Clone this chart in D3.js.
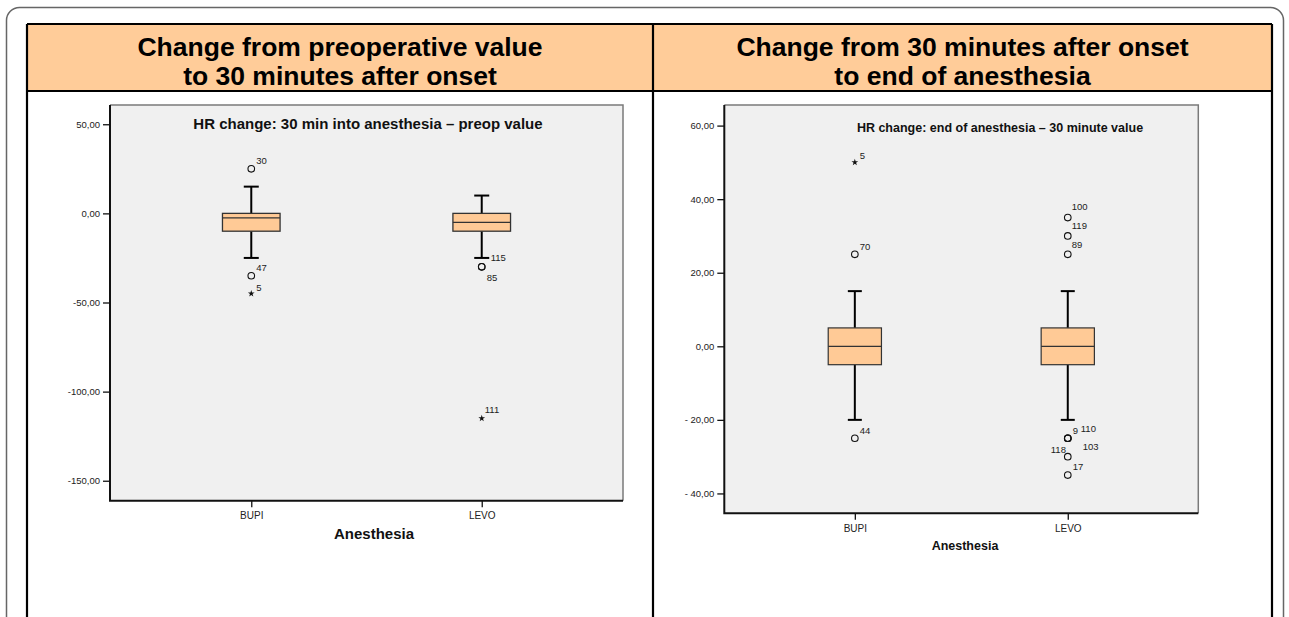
<!DOCTYPE html>
<html><head><meta charset="utf-8">
<script src="https://cdn.jsdelivr.net/npm/d3@7"></script>
<style>
body{margin:0;background:#fff}
svg{display:block}
text{font-family:"Liberation Sans",Arial,Helvetica,sans-serif}
</style>
</head><body>
<svg id="chart" width="1289" height="617"></svg>
<script>
// ---------------- DATA ----------------
const categories = ["BUPI", "LEVO"];
const headerTitles = [
  ["Change from preoperative value", "to 30 minutes after onset"],
  ["Change from 30 minutes after onset", "to end of anesthesia"]
];
const plotTitles = [
  "HR change: 30 min into anesthesia \u2013 preop value",
  "HR change: end of anesthesia \u2013 30 minute value"
];
const xAxisTitle = "Anesthesia";

// Left panel: change from preoperative value to 30 min after onset
const leftQ1 = [-10, -10];
const leftMedian = [-2.5, -5];
const leftQ3 = [0, 0];
const leftWhiskerLow = [-25, -25];
const leftWhiskerHigh = [15, 10];
const leftOutliers = [
  {group: "BUPI", id: "30", value: 25, type: "circle"},
  {group: "BUPI", id: "47", value: -35, type: "circle"},
  {group: "BUPI", id: "5", value: -45, type: "star"},
  {group: "LEVO", id: "115", value: -30, type: "circle"},
  {group: "LEVO", id: "85", value: -30, type: "circle"},
  {group: "LEVO", id: "111", value: -115, type: "star"}
];
const leftTicks = [50, 0, -50, -100, -150];
const leftTickLabels = ["50,00", "0,00", "-50,00", "-100,00", "-150,00"];

// Right panel: change from 30 min after onset to end of anesthesia
const rightQ1 = [-5, -5];
const rightMedian = [0, 0];
const rightQ3 = [5, 5];
const rightWhiskerLow = [-20, -20];
const rightWhiskerHigh = [15, 15];
const rightOutliers = [
  {group: "BUPI", id: "5", value: 50, type: "star"},
  {group: "BUPI", id: "70", value: 25, type: "circle"},
  {group: "BUPI", id: "44", value: -25, type: "circle"},
  {group: "LEVO", id: "100", value: 35, type: "circle"},
  {group: "LEVO", id: "119", value: 30, type: "circle"},
  {group: "LEVO", id: "89", value: 25, type: "circle"},
  {group: "LEVO", id: "9", value: -25, type: "circle"},
  {group: "LEVO", id: "110", value: -25, type: "circle"},
  {group: "LEVO", id: "103", value: -25, type: "circle"},
  {group: "LEVO", id: "118", value: -30, type: "circle"},
  {group: "LEVO", id: "17", value: -35, type: "circle"}
];
const rightTicks = [60, 40, 20, 0, -20, -40];
const rightTickLabels = ["60,00", "40,00", "20,00", "0,00", "- 20,00", "- 40,00"];

// ---------------- LAYOUT / STYLE ----------------
const W = 1289, H = 617;
const headerFill = "#FFCC99";
const boxFill = "#FFCA96";
const plotBg = "#F0F0F0";

const svg = d3.select("#chart");

// outer rounded frame
svg.append("rect")
  .attr("x", 6.5).attr("y", 7.5).attr("width", 1277).attr("height", 700)
  .attr("rx", 13).attr("fill", "#fff").attr("stroke", "#666").attr("stroke-width", 1.5);

// table
const tLeft = 27, tRight = 1272, tTop = 24, hBottom = 91, tMid = 653;
svg.append("rect").attr("x", tLeft).attr("y", tTop).attr("width", tRight - tLeft).attr("height", hBottom - tTop)
  .attr("fill", headerFill);
const tbl = svg.append("g").attr("stroke", "#000").attr("stroke-width", 2.2).attr("fill", "none");
tbl.append("line").attr("x1", tLeft).attr("x2", tRight).attr("y1", tTop).attr("y2", tTop);
tbl.append("line").attr("x1", tLeft).attr("x2", tRight).attr("y1", hBottom).attr("y2", hBottom);
tbl.append("line").attr("x1", tLeft).attr("x2", tLeft).attr("y1", tTop).attr("y2", H + 5);
tbl.append("line").attr("x1", tRight).attr("x2", tRight).attr("y1", tTop).attr("y2", H + 5);
tbl.append("line").attr("x1", tMid).attr("x2", tMid).attr("y1", tTop).attr("y2", H + 5);

// header titles
const cellCenters = [(tLeft + tMid) / 2, (tMid + tRight) / 2];
headerTitles.forEach((lines, i) => {
  lines.forEach((ln, j) => {
    svg.append("text")
      .attr("transform", `translate(${cellCenters[i]},${55.5 + j * 29.5}) scale(1.02,1)`)
      .attr("text-anchor", "middle")
      .attr("font-size", 26).attr("font-weight", "bold").attr("fill", "#000")
      .text(ln);
  });
});

// ---------------- PANELS ----------------
const panels = [
  {
    key: "L",
    plot: {x0: 110, x1: 623, y0: 105, y1: 500.7},
    yDomain: [-161.2, 60.8],
    q1: leftQ1, median: leftMedian, q3: leftQ3, lo: leftWhiskerLow, hi: leftWhiskerHigh,
    outliers: leftOutliers, ticks: leftTicks, tickLabels: leftTickLabels,
    title: plotTitles[0], titleX: 368, titleY: 129.3, titleSize: 15,
    axisTitleX: 374, axisTitleY: 539, axisTitleSize: 15,
    xLabelY: 519, capW: 15, boxStroke: 1.3
  },
  {
    key: "R",
    plot: {x0: 724.3, x1: 1198.3, y0: 105, y1: 513.3},
    yDomain: [-45.4, 65.6],
    q1: rightQ1, median: rightMedian, q3: rightQ3, lo: rightWhiskerLow, hi: rightWhiskerHigh,
    outliers: rightOutliers, ticks: rightTicks, tickLabels: rightTickLabels,
    title: plotTitles[1], titleX: 1000, titleY: 131.7, titleSize: 12.5,
    axisTitleX: 965, axisTitleY: 550, axisTitleSize: 12.5,
    xLabelY: 532, capW: 14, boxStroke: 1.2
  }
];

// label offsets for crowded outlier labels (layout only)
const labelOffsets = {
  "L115": [9, -9], "L85": [5, 11], "L111": [3, -9], "L5": [5, -6],
  "R5": [5, -7], "R9": [5, -8], "R110": [13, -10], "R103": [15, 8], "R118": [-17, -7],
  "R100": [4, -11], "R119": [4, -10], "R89": [4, -10]
};

panels.forEach(p => {
  const g = svg.append("g");
  const x = d3.scalePoint().domain(categories).range([p.plot.x0, p.plot.x1]).padding(0.613);
  const y = d3.scaleLinear().domain(p.yDomain).range([p.plot.y1, p.plot.y0]);
  const boxW = x.step() * 0.25;

  // plot background + frame
  g.append("rect").attr("x", p.plot.x0).attr("y", p.plot.y0)
    .attr("width", p.plot.x1 - p.plot.x0).attr("height", p.plot.y1 - p.plot.y0)
    .attr("fill", plotBg);
  g.append("path")
    .attr("d", `M${p.plot.x0},${p.plot.y0}H${p.plot.x1}V${p.plot.y1}`)
    .attr("fill", "none").attr("stroke", "#7a7a7a").attr("stroke-width", 1.5);
  g.append("path")
    .attr("d", `M${p.plot.x0},${p.plot.y0}V${p.plot.y1}H${p.plot.x1}`)
    .attr("fill", "none").attr("stroke", "#111").attr("stroke-width", 2);

  // y axis
  const ya = g.append("g").attr("transform", `translate(${p.plot.x0},0)`)
    .call(d3.axisLeft(y).tickValues(p.ticks).tickFormat((d, i) => p.tickLabels[i]).tickSize(7).tickPadding(3).tickSizeOuter(0));
  ya.select(".domain").remove();
  ya.selectAll(".tick line").attr("stroke", "#111").attr("stroke-width", 1.3);
  ya.selectAll(".tick text").attr("font-size", 9.5).attr("fill", "#222")
    .style("font-family", '"Liberation Sans",Arial,sans-serif');

  // x axis
  const xa = g.append("g").attr("transform", `translate(0,${p.plot.y1})`)
    .call(d3.axisBottom(x).tickSize(6.5).tickPadding(0).tickSizeOuter(0));
  xa.select(".domain").remove();
  xa.selectAll(".tick line").attr("stroke", "#111").attr("stroke-width", 1.3);
  xa.selectAll(".tick text").attr("font-size", 10).attr("fill", "#222")
    .attr("y", p.xLabelY - p.plot.y1).attr("dy", 0)
    .style("font-family", '"Liberation Sans",Arial,sans-serif');

  // titles
  g.append("text").attr("x", p.titleX).attr("y", p.titleY).attr("text-anchor", "middle")
    .attr("font-size", p.titleSize).attr("font-weight", "bold").attr("fill", "#111").text(p.title);
  g.append("text").attr("x", p.axisTitleX).attr("y", p.axisTitleY).attr("text-anchor", "middle")
    .attr("font-size", p.axisTitleSize).attr("font-weight", "bold").attr("fill", "#111").text(xAxisTitle);

  // boxes
  categories.forEach((c, i) => {
    const cx = x(c);
    g.append("line").attr("x1", cx).attr("x2", cx).attr("y1", y(p.hi[i])).attr("y2", y(p.q3[i]))
      .attr("stroke", "#000").attr("stroke-width", 2);
    g.append("line").attr("x1", cx).attr("x2", cx).attr("y1", y(p.q1[i])).attr("y2", y(p.lo[i]))
      .attr("stroke", "#000").attr("stroke-width", 2);
    [p.hi[i], p.lo[i]].forEach(v => {
      g.append("line").attr("x1", cx - p.capW / 2).attr("x2", cx + p.capW / 2)
        .attr("y1", y(v)).attr("y2", y(v)).attr("stroke", "#000").attr("stroke-width", 2);
    });
    g.append("rect").attr("x", cx - boxW / 2).attr("y", y(p.q3[i]))
      .attr("width", boxW).attr("height", y(p.q1[i]) - y(p.q3[i]))
      .attr("fill", boxFill).attr("stroke", "#333").attr("stroke-width", p.boxStroke);
    g.append("line").attr("x1", cx - boxW / 2).attr("x2", cx + boxW / 2)
      .attr("y1", y(p.median[i])).attr("y2", y(p.median[i]))
      .attr("stroke", "#333").attr("stroke-width", 1.3);
  });

  // outliers
  p.outliers.forEach(o => {
    const cx = x(o.group), cy = y(o.value);
    if (o.type === "circle") {
      g.append("circle").attr("cx", cx).attr("cy", cy).attr("r", 3.3)
        .attr("fill", "none").attr("stroke", "#111").attr("stroke-width", 1.1);
    } else {
      g.append("path").attr("transform", `translate(${cx},${cy})`)
        .attr("d", d3.symbol(d3.symbolStar, 14)()).attr("fill", "#111");
    }
    const off = labelOffsets[p.key + o.id] || [5, -8];
    g.append("text").attr("x", cx + off[0]).attr("y", cy + off[1]).attr("dy", "0.35em")
      .attr("font-size", 9.5).attr("fill", "#222").text(o.id);
  });
});
</script>
</body></html>
